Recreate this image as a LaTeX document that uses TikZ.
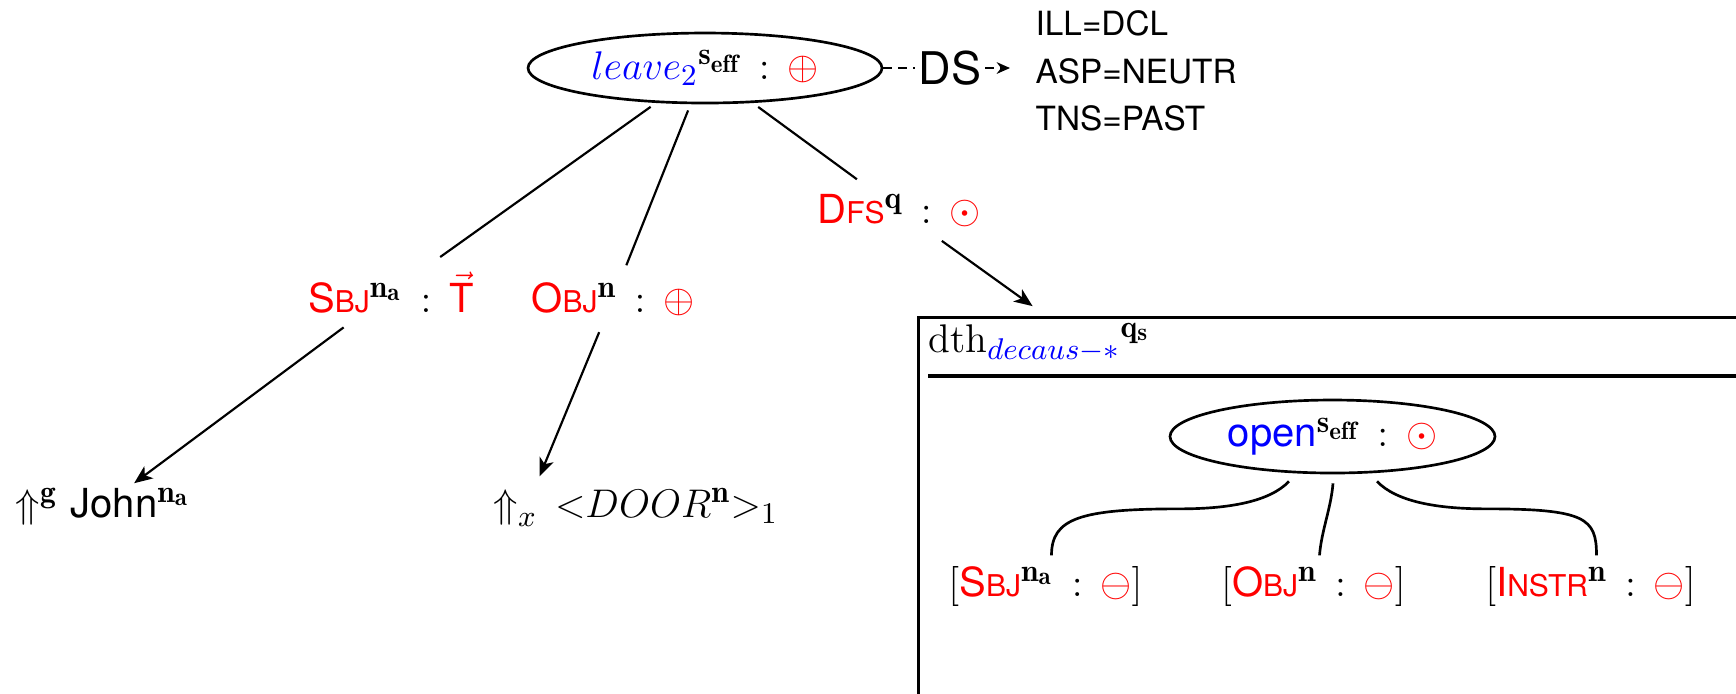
\documentclass[tikz,border=0pt]{standalone}
\usepackage{fontspec}
\setsansfont{TeX Gyre Heros}
\usetikzlibrary{shapes.geometric, arrows.meta, calc}
\DeclareMathSizes{12}{12}{9.5}{7.5}
\definecolor{catred}{RGB}{255,0,0}
\definecolor{lexblue}{RGB}{0,0,255}
% small-capital tail of a category label
\newcommand\capsm[1]{{\fontsize{9}{10}\selectfont #1}}
\newcommand\rcat[2]{\textcolor{catred}{\sffamily #1\capsm{#2}}}
\begin{document}
\begin{tikzpicture}[x=0.3pt, y=-0.3pt,
  every node/.style={font=\fontsize{12}{14}\selectfont, inner sep=3pt},
  lex/.style={ellipse, draw, line width=0.8pt, inner sep=0pt},
  edge/.style={line width=0.65pt, shorten <=2pt, shorten >=2pt},
  arr/.style={edge, -{Stealth[length=5.5pt, width=4.5pt, inset=1.5pt]}},
  dsh/.style={line width=0.6pt, dash pattern=on 2.5pt off 2pt},
  branch/.style={line width=0.8pt}]
\path[use as bounding box] (0,0) rectangle (1736,693);
\clip (0,0) rectangle (1736,693);

% main predicate and its discourse features
\node[lex, minimum width=106.2pt, minimum height=21pt] (top) at (705,68)
  {$\textcolor{lexblue}{leave_2}^{\mathbf{s_{eff}}}\,:\,\textcolor{catred}{\oplus}$};
\node[inner sep=1pt, font=\fontsize{13.5}{15}\selectfont\sffamily] (ds) at (950,68) {DS};
\node[anchor=west, inner sep=0pt, align=left, font=\fontsize{10}{14.2}\selectfont\sffamily]
  (feat) at (1035,71) {ILL=DCL\\ASP=NEUTR\\TNS=PAST};

% first-level arguments
\node[anchor=base] (sbj) at (391,312)
  {\rcat{S}{BJ}$^{\mathbf{n_a}}\,:\,\textcolor{catred}{\vec{\textsf{T}}}$};
\node[anchor=base] (obj) at (613,312)
  {\rcat{O}{BJ}$^{\mathbf{n}}\,:\,\textcolor{catred}{\oplus}$};
\node[anchor=base] (dfs) at (899,223)
  {\rcat{D}{FS}$^{\mathbf{q}}\,:\,\textcolor{catred}{\odot}$};

% fillers
\node[anchor=base west, inner sep=0pt] (john) at (15,517)
  {$\Uparrow^{\mathbf{g}}$ \textsf{John}$^{\mathbf{n_a}}$};
\node[anchor=base west, inner sep=0pt] (door) at (493,517)
  {${\Uparrow}_x\;\,{<}DOOR^{\mathbf{n}}{>}_1$};

% embedded frame
\node[draw, line width=0.8pt, anchor=north west, minimum width=300pt,
  minimum height=140pt, inner sep=0pt] (box) at (917,316) {};
\draw[line width=1.2pt] ($(box.north west)+(11,60)$) -- ($(box.north east)+(0,60)$);
\node[anchor=base west, inner sep=0pt] (hdr) at (928,352)
  {$\mathrm{dth}_{\textcolor{lexblue}{decaus-*}}{}^{\mathbf{q_s}}$};

\node[lex, minimum width=97.5pt, minimum height=21.9pt] (open) at (1332.5,436.5)
  {\textcolor{lexblue}{\sffamily open}$^{\mathbf{s_{eff}}}\,:\,\textcolor{catred}{\odot}$};
\node[anchor=base] (lsbj) at (1045.5,596)
  {$\big[$\rcat{S}{BJ}$^{\mathbf{n_a}}\,:\,\textcolor{catred}{\ominus}\big]$};
\node[anchor=base] (lobj) at (1313.5,596)
  {$\big[$\rcat{O}{BJ}$^{\mathbf{n}}\,:\,\textcolor{catred}{\ominus}\big]$};
\node[anchor=base] (linstr) at (1590.5,596)
  {$\big[$\rcat{I}{NSTR}$^{\mathbf{n}}\,:\,\textcolor{catred}{\ominus}\big]$};

% connectors
\draw[edge] (top) -- (sbj);
\draw[edge] (top) -- (obj);
\draw[edge] (top) -- (dfs);
\draw[dsh] (top.east) -- (ds.west);
\draw[dsh, -{Stealth[length=4pt, width=3.5pt]}, shorten >=7.5pt] (ds.east) -- (ds.east -| feat.west);
\draw[arr] (sbj) -- (john);
\draw[arr] (obj) -- ($(door.north west)+(44,-5)$);
\draw[arr] (dfs) -- ($(box.north west)+(121,-6)$);

% brace-like branches under the embedded predicate
\draw[branch] ($(open.south)+(-43.5,7)$) .. controls +(-19,20) and +(50,0) .. +(-109,27.5)
  .. controls +(-100,0) and +(0,-37) .. ($(lsbj.north)+(6,0)$);
\draw[branch] ($(open.south)+(0.5,9)$) .. controls +(-2,25) and +(2,-25) .. ($(lobj.north)+(6,0)$);
\draw[branch] ($(open.south)+(44.5,7)$) .. controls +(19,20) and +(-50,0) .. +(109,27.5)
  .. controls +(100,0) and +(0,-37) .. ($(linstr.north)+(6,0)$);
\end{tikzpicture}
\end{document}
